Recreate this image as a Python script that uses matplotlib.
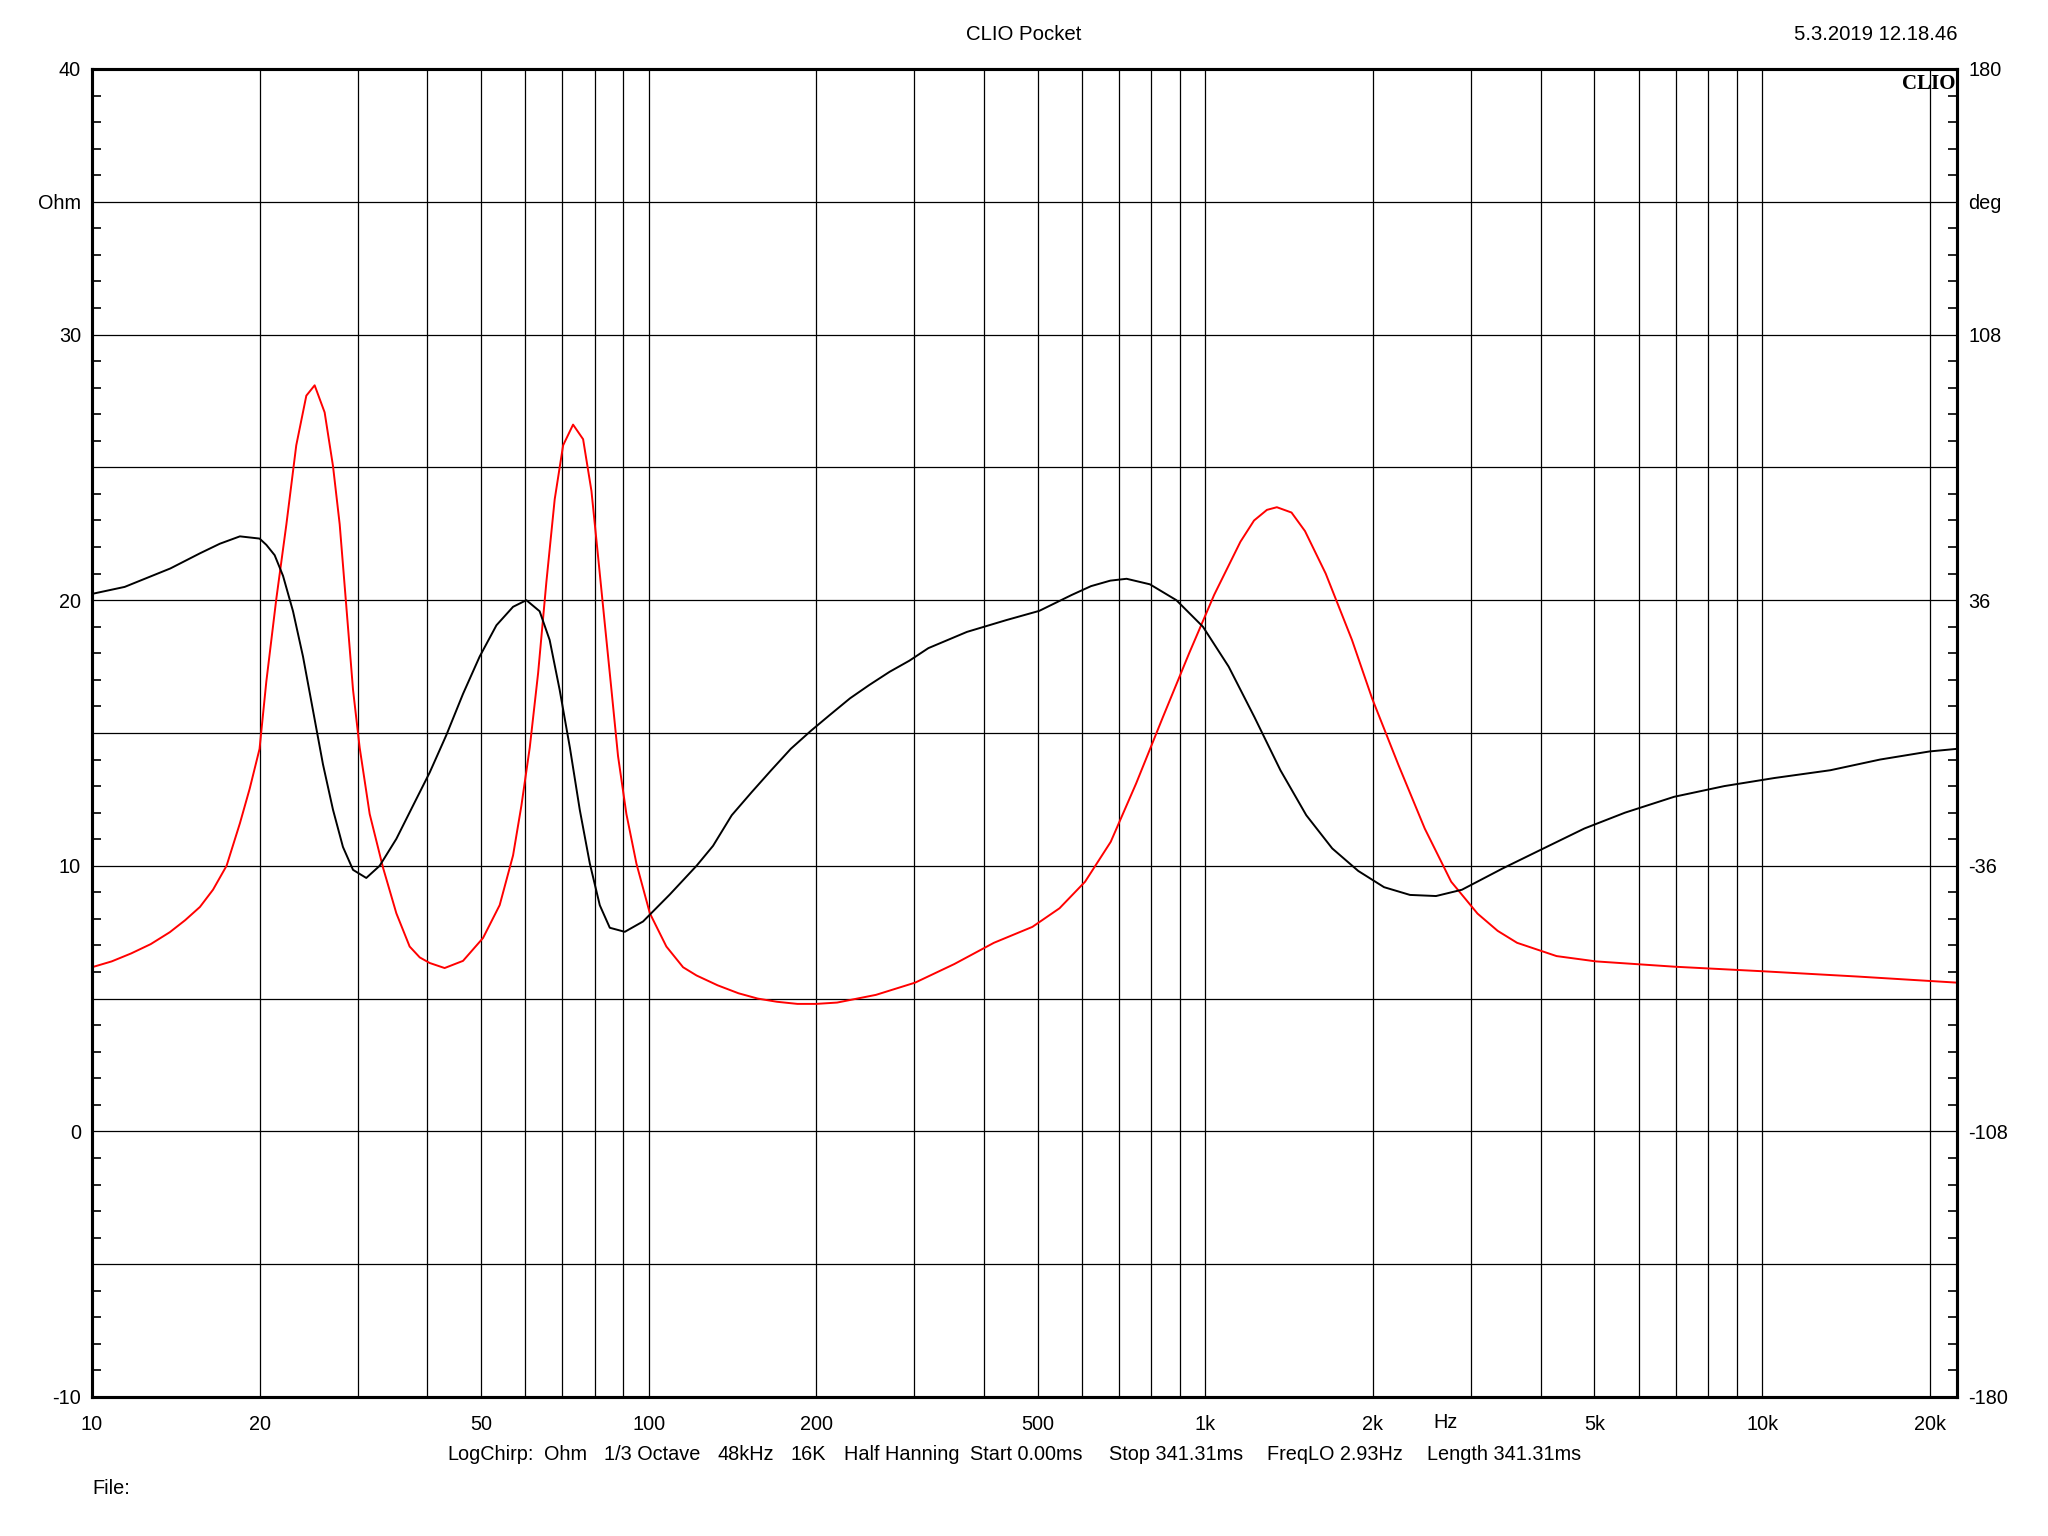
'''CLIO Pocket impedance / phase plot
'''
import numpy as np
import matplotlib
matplotlib.use('Agg')
import matplotlib.pyplot as plt
import matplotlib.ticker as mticker

plt.rcParams['font.family'] = ['Liberation Sans', 'DejaVu Sans']

# impedance magnitude (red, Ohm, left axis)
mag_freq = [10, 10.85, 11.76, 12.75, 13.8, 14.7, 15.63, 16.5, 17.45, 18.44, 19.2,
            20.0, 20.57, 21.44, 22.35, 23.28, 24.27, 25.12, 26.18, 27.10, 27.86,
            28.64, 29.44, 30.26, 31.54, 33.33, 35.22, 37.21, 38.8, 40.43, 43.0,
            46.4, 50.4, 54.0, 57.07, 59.07, 61.15, 63.3, 65.5, 67.8, 70.2, 73.15,
            76.25, 78.93, 81.14, 83.4, 85.73, 88.1, 91.2, 95.07, 100.5, 107.6,
            115.3, 121.9, 133, 145, 157, 170, 185, 200, 218, 256, 301, 354, 417,
            489, 547, 608, 676, 751, 839, 935, 1037, 1156, 1223, 1290, 1344, 1428,
            1510, 1645, 1834, 1993, 2222, 2478, 2764, 3082, 3350, 3630, 4274,
            5032, 6968, 10000, 14840, 22400]
mag_ohm = [6.18, 6.4, 6.7, 7.05, 7.5, 7.95, 8.45, 9.1, 10.0, 11.6, 12.9,
           14.4, 16.94, 20.06, 22.86, 25.83, 27.70, 28.09, 27.07, 25.05, 22.86,
           19.75, 16.63, 14.45, 11.95, 9.93, 8.21, 6.96, 6.55, 6.34, 6.15,
           6.42, 7.28, 8.52, 10.39, 12.26, 14.45, 17.25, 20.68, 23.80, 25.83, 26.61,
           26.06, 24.11, 21.62, 19.12, 16.63, 14.13, 11.95, 10.08, 8.21, 6.96,
           6.18, 5.87, 5.5, 5.2, 5.0, 4.88, 4.8, 4.8, 4.85, 5.14, 5.6, 6.3, 7.1,
           7.7, 8.4, 9.4, 10.9, 13.1, 15.6, 18.0, 20.2, 22.2, 23.0, 23.4, 23.5, 23.3,
           22.6, 21.0, 18.5, 16.3, 13.8, 11.4, 9.4, 8.2, 7.55, 7.1, 6.6,
           6.4, 6.2, 6.03, 5.83, 5.6]

# phase (black, deg, right axis)
ph_freq = [10, 11.45, 13.83, 15.63, 16.97, 18.44, 20.0, 20.57, 21.29, 22.04, 22.97,
           23.94, 24.95, 26.0, 27.1, 28.24, 29.44, 31.10, 32.87, 35.22, 37.73,
           40.43, 43.3, 46.4, 49.7, 53.28, 57.07, 60.3, 63.7, 66.4, 69.2, 72.2,
           75.2, 78.4, 81.7, 85.15, 90.6, 97.7, 109.1, 121.9, 130.5, 141, 153, 166,
           180, 196, 212, 230, 249, 271, 294, 318, 373, 439, 503, 575, 623, 675,
           722, 795, 887, 990, 1101, 1225, 1364, 1518, 1690, 1882, 2094, 2331,
           2596, 2889, 3422, 4049, 4794, 5672, 6950, 8553, 10530, 13260, 16290,
           20000, 22400]
ph_deg = [37.7, 39.6, 44.6, 48.7, 51.3, 53.3, 52.7, 51.0, 48.2, 42.6, 33.0,
          20.7, 6.1, -8.5, -20.8, -30.9, -37.1, -39.3, -36.0, -28.7, -19.7,
          -10.7, -0.6, 10.6, 20.7, 29.2, 34.2, 36.0, 33.0, 25.2, 11.7, -4.0,
          -20.8, -35.4, -46.7, -52.8, -53.9, -51.1, -43.8, -36.0, -30.6, -22.3,
          -16.1, -10.1, -4.3, 0.7, 5.0, 9.4, 13.0, 16.6, 19.6, 23.0, 27.4, 30.6,
          33.1, 37.4, 39.8, 41.3, 41.8, 40.3, 36.0, 28.8, 18.0, 4.3, -10.1, -22.3,
          -31.3, -37.4, -41.8, -43.9, -44.2, -42.5, -36.7, -31.3, -25.9, -21.6,
          -17.3, -14.4, -12.2, -10.1, -7.2, -5.0, -4.3]

x_ticks = [10, 20, 50, 100, 200, 500, 1000, 2000, 5000, 10000, 20000]
x_labels = ['10', '20', '50', '100', '200', '500', '1k', '2k', '5k', '10k', '20k']
left_labels = ['-10', '', '0', '', '10', '', '20', '', '30', 'Ohm', '40']
right_labels = ['-180', '', '-108', '', '-36', '', '36', '', '108', 'deg', '180']

footer_parts = ['LogChirp:', 'Ohm', '1/3 Octave', '48kHz', '16K', 'Half Hanning',
                'Start 0.00ms', 'Stop 341.31ms', 'FreqLO 2.93Hz', 'Length 341.31ms']
footer_x = [447, 544, 604, 718, 791, 844, 970, 1109, 1267, 1427]  # pixels

fs = 14.3

fig = plt.figure(figsize=(20.48, 15.36), dpi=100)
ax = fig.add_axes([0.0449, 0.0905, 0.9107, 0.8646])
ax2 = ax.twinx()

ax.set_xscale('log')
ax.set_xlim(10, 22400)
ax.set_ylim(-10, 40)
ax2.set_ylim(-180, 180)

# grid: every 1..9 per decade vertically, every 5 Ohm horizontally
vgrid = [m * 10 ** d for d in range(1, 5) for m in range(1, 10)]
vgrid = [v for v in vgrid if 10 < v <= 20000]
for v in vgrid:
    ax.axvline(v, color='black', lw=0.9, zorder=1)
for h in range(-5, 40, 5):
    ax.axhline(h, color='black', lw=0.9, zorder=1)

ax.plot(mag_freq, mag_ohm, color='#ff0000', lw=1.4, zorder=3)
ax2.plot(ph_freq, ph_deg, color='black', lw=1.4, zorder=3)

ax.set_xticks(x_ticks)
ax.set_xticklabels(x_labels)
ax.xaxis.set_minor_locator(mticker.NullLocator())
ax.tick_params(axis='x', which='major', length=0, pad=13, labelsize=fs)

ax.set_yticks(np.arange(-10, 41, 5))
ax.set_yticklabels(left_labels)
ax.yaxis.set_minor_locator(mticker.MultipleLocator(1))
ax.tick_params(axis='y', which='major', length=0, pad=8, labelsize=fs)
ax.tick_params(axis='y', which='minor', direction='in', length=6.5, width=1.2)

ax2.set_yticks(np.arange(-180, 181, 36))
ax2.set_yticklabels(right_labels)
ax2.yaxis.set_minor_locator(mticker.MultipleLocator(7.2))
ax2.tick_params(axis='y', which='major', length=0, pad=8, labelsize=fs)
ax2.tick_params(axis='y', which='minor', direction='in', length=6.5, width=1.2)

for a in (ax, ax2):
    for s in a.spines.values():
        s.set_linewidth(2.2)
        s.set_zorder(5)

ax.text(2700, -10.6, 'Hz', ha='center', va='top', fontsize=fs, clip_on=False)
ax.text(0.999, 0.996, 'CLIO', ha='right', va='top', transform=ax.transAxes,
        fontsize=15, fontweight='bold', family=['Liberation Serif', 'DejaVu Serif'])

fig.text(1024 / 2048, 1 - 34 / 1536, 'CLIO Pocket', ha='center', va='center', fontsize=14.7)
fig.text(1957 / 2048, 1 - 34 / 1536, '5.3.2019 12.18.46', ha='right', va='center', fontsize=14.6)
for part, px in zip(footer_parts, footer_x):
    fig.text(px / 2048, 1 - 1455 / 1536, part, ha='left', va='center', fontsize=fs)
fig.text(92 / 2048, 1 - 1489 / 1536, 'File:', ha='left', va='center', fontsize=fs)

fig.savefig('out.png', dpi=100, facecolor='white')
